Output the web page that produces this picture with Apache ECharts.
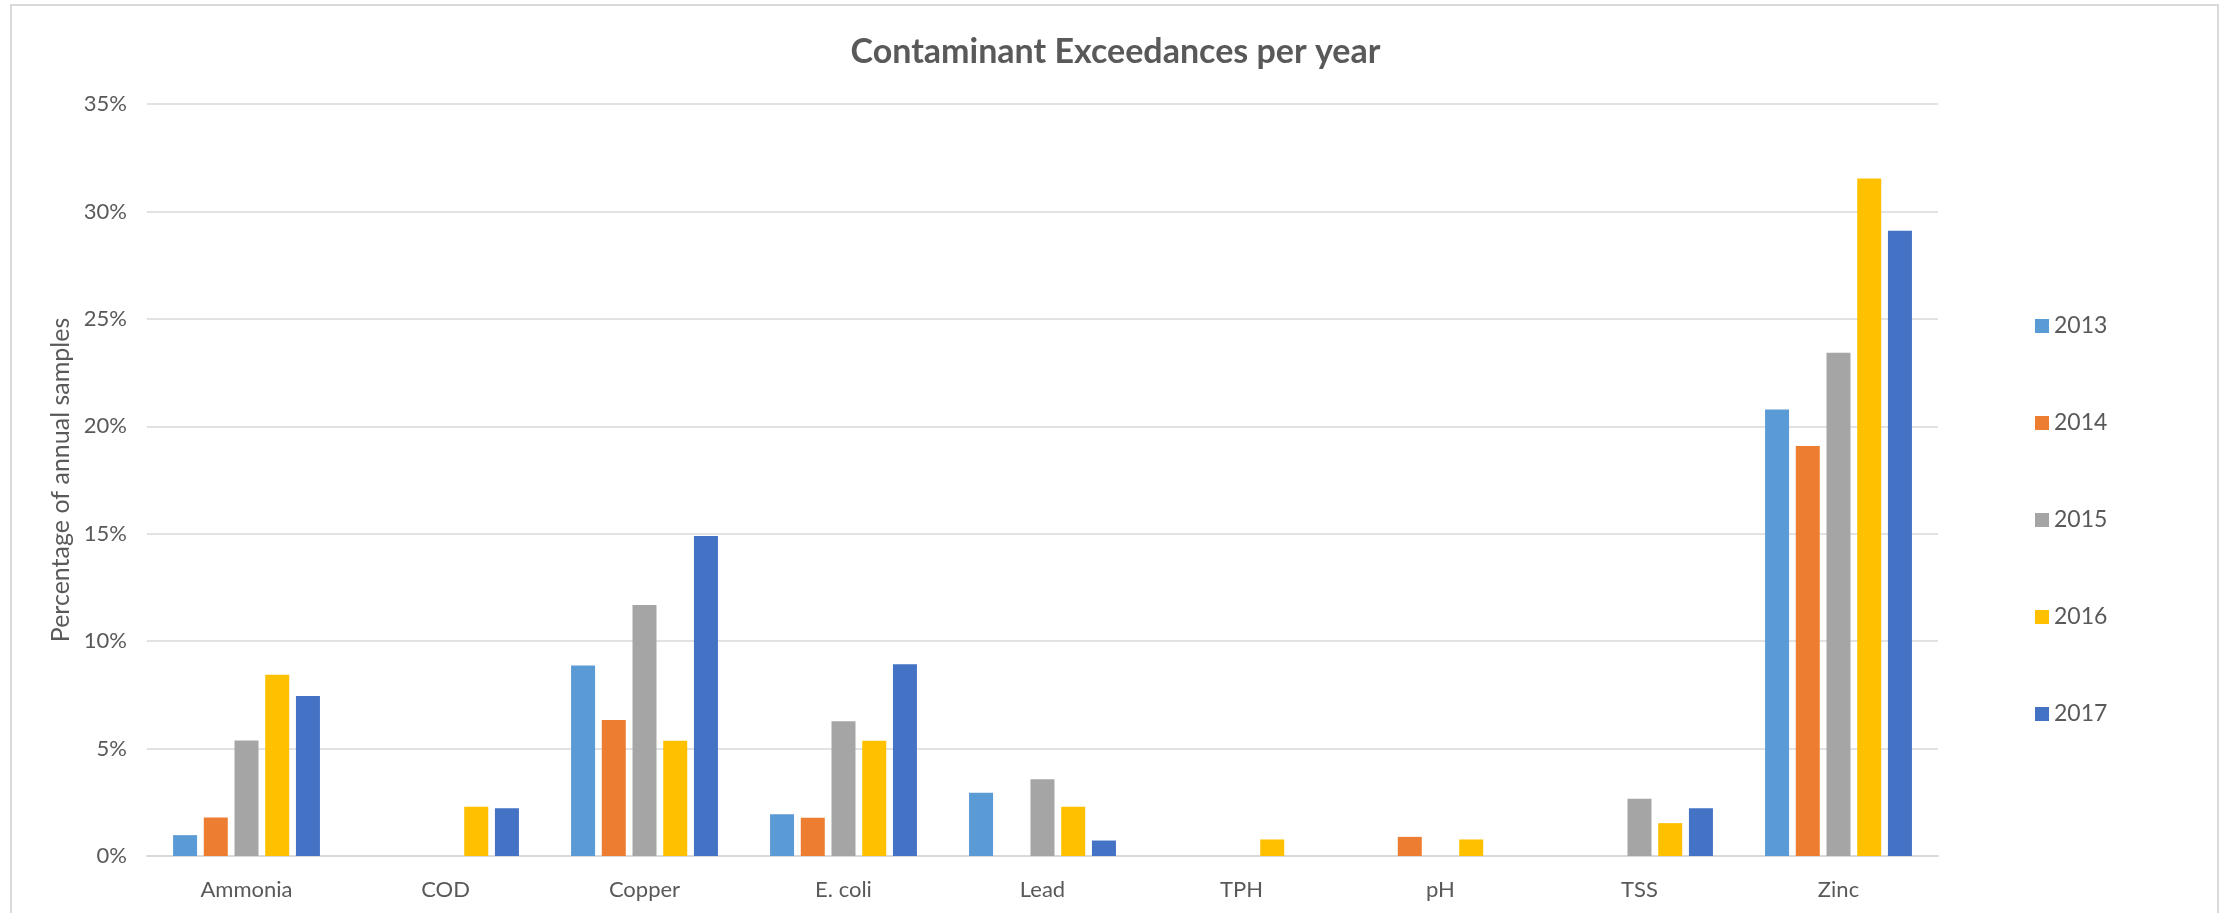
<!DOCTYPE html>
<html>
<head>
<meta charset="utf-8">
<script src="https://cdn.jsdelivr.net/npm/echarts@6/dist/echarts.min.js"></script>
<style>
html,body{margin:0;padding:0;background:#fff;}
#chart{width:2231px;height:913px;}
</style>
</head>
<body>
<div id="chart"></div>
<script>
const categories = ["Ammonia", "COD", "Copper", "E. coli", "Lead", "TPH", "pH", "TSS", "Zinc"];
const years = ["2013", "2014", "2015", "2016", "2017"];
const y2013 = [0.97, null, 8.87, 1.94, 2.94, null, null, null, 20.78];
const y2014 = [1.79, null, 6.33, 1.78, null, null, 0.89, null, 19.08];
const y2015 = [5.37, null, 11.68, 6.27, 3.57, null, null, 2.67, 23.42];
const y2016 = [8.44, 2.29, 5.36, 5.36, 2.29, 0.77, 0.77, 1.53, 31.53];
const y2017 = [7.45, 2.22, 14.89, 8.92, 0.72, null, null, 2.22, 29.10];
const seriesValues = [y2013, y2014, y2015, y2016, y2017];
const colors = ["#5B9BD5", "#ED7D31", "#A5A5A5", "#FFC000", "#4472C4"];

const FONT = "Lato, 'Open Sans', sans-serif";
const chart = echarts.init(document.getElementById('chart'));
chart.setOption({
  animation: false,
  color: colors,
  textStyle: { fontFamily: FONT },
  title: {
    text: "Contaminant Exceedances per year",
    left: 'center',
    top: 30,
    textStyle: { fontFamily: FONT, fontSize: 34, fontWeight: 'bold', color: '#595959' }
  },
  graphic: [{
    type: 'rect',
    shape: { x: 11, y: 5, width: 2207, height: 960 },
    style: { fill: 'none', stroke: '#d9d9d9', lineWidth: 2 },
    silent: true
  }],
  legend: {
    orient: 'vertical',
    left: 2030,
    top: 309,
    itemWidth: 14,
    itemHeight: 14,
    itemGap: 73,
    icon: 'rect',
    data: years,
    textStyle: { fontFamily: FONT, fontSize: 23, color: '#595959', lineHeight: 24 }
  },
  grid: { left: 147, right: 293, top: 104, bottom: 57 },
  xAxis: {
    type: 'category',
    data: categories,
    axisLine: { lineStyle: { color: '#d9d9d9', width: 2 } },
    axisTick: { show: false },
    axisLabel: { fontFamily: FONT, fontSize: 22, color: '#595959', margin: 23 }
  },
  yAxis: {
    type: 'value',
    min: 0, max: 35, interval: 5,
    name: "Percentage of annual samples",
    nameLocation: 'middle',
    nameGap: 72,
    nameTextStyle: { fontFamily: FONT, fontSize: 25, color: '#595959' },
    axisLine: { show: false },
    axisTick: { show: false },
    axisLabel: { formatter: '{value}%', fontFamily: FONT, fontSize: 22, color: '#595959', margin: 20 },
    splitLine: { lineStyle: { color: '#d9d9d9', width: 1.5 } }
  },
  series: years.map((y, i) => ({
    name: y,
    type: 'bar',
    data: seriesValues[i],
    barWidth: 24,
    barGap: '28%',
    itemStyle: { color: colors[i] }
  }))
});
</script>
</body>
</html>
